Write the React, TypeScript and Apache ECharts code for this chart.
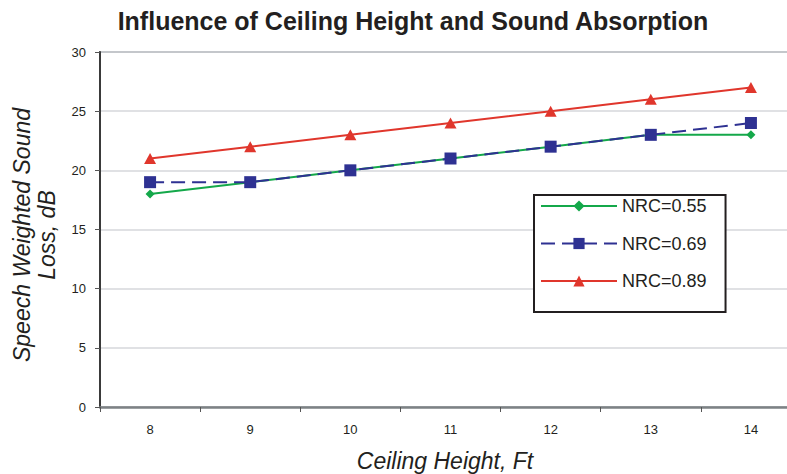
import React, { useEffect, useRef } from 'react';
import * as echarts from 'echarts';

const categories = ['8', '9', '10', '11', '12', '13', '14'];
const nrc055 = [18, 19, 20, 21, 22, 23, 23];
const nrc069 = [19, 19, 20, 21, 22, 23, 24];
const nrc089 = [21, 22, 23, 24, 25, 26, 27];
const seriesNames = ['NRC=0.55', 'NRC=0.69', 'NRC=0.89'];
const titleText = 'Influence of Ceiling Height and Sound Absorption';
const yName = 'Speech Weighted Sound\nLoss, dB';
const xName = 'Ceiling Height, Ft';

const FONT = '"Liberation Sans", Arial, Helvetica, sans-serif';

export default function App() {
  const ref = useRef<HTMLDivElement>(null);
  useEffect(() => {
    if (!ref.current) return;
    const chart = echarts.init(ref.current, null, { renderer: 'svg' });
    chart.setOption({
      animation: false,
      backgroundColor: '#ffffff',
      textStyle: { fontFamily: FONT },
      title: {
        text: titleText,
        left: 413,
        textAlign: 'center',
        top: 8,
        padding: 0,
        textStyle: { fontFamily: FONT, fontSize: 25, fontWeight: 'bold', color: '#231f20' },
      },
      grid: {
        left: 100,
        top: 52,
        width: 701,
        height: 355,
        show: true,
        borderColor: '#8e979c',
        borderWidth: 2,
        containLabel: false,
      },
      legend: {
        orient: 'vertical',
        left: 534,
        top: 195,
        padding: [2, 19, 22, 6],
        itemWidth: 76,
        itemHeight: 14,
        itemGap: 19.5,
        borderColor: '#231f20',
        borderWidth: 2,
        backgroundColor: '#ffffff',
        textStyle: { fontFamily: FONT, fontSize: 18, color: '#231f20', lineHeight: 18 },
        data: seriesNames,
      },
      xAxis: {
        type: 'category',
        data: categories,
        boundaryGap: true,
        axisLine: { show: true, lineStyle: { color: '#7d8285', width: 2.5 } },
        axisTick: { show: true, inside: false, length: 5, lineStyle: { color: '#555', width: 1 } },
        axisLabel: { fontFamily: FONT, fontSize: 13, color: '#231f20', margin: 16 },
        splitLine: { show: false },
      },
      yAxis: {
        type: 'value',
        min: 0,
        max: 30,
        interval: 5,
        axisLine: { show: true, lineStyle: { color: '#3a3a3a', width: 2 } },
        axisTick: { show: true, inside: false, length: 5, lineStyle: { color: '#555', width: 1 } },
        axisLabel: { fontFamily: FONT, fontSize: 13, color: '#231f20', margin: 14 },
        splitLine: { show: true, lineStyle: { color: '#d6d7db', width: 1.5 } },
      },
      graphic: [
        {
          type: 'text',
          x: 34,
          y: 235,
          rotation: Math.PI / 2,
          style: {
            text: yName,
            fontFamily: FONT,
            fontSize: 23,
            fontStyle: 'italic',
            fill: '#231f20',
            align: 'center',
            verticalAlign: 'middle',
            lineHeight: 25,
          },
        },
        {
          type: 'text',
          x: 445,
          y: 461,
          style: {
            text: xName,
            fontFamily: FONT,
            fontSize: 23,
            fontStyle: 'italic',
            fill: '#231f20',
            align: 'center',
            verticalAlign: 'middle',
          },
        },
      ],
      series: [
        {
          name: seriesNames[0],
          type: 'line',
          data: nrc055,
          symbol: 'diamond',
          symbolSize: 9,
          z: 2,
          itemStyle: { color: '#14a84a' },
          lineStyle: { color: '#14a84a', width: 2 },
        },
        {
          name: seriesNames[1],
          type: 'line',
          data: nrc069,
          symbol: 'rect',
          symbolSize: 12,
          z: 3,
          itemStyle: { color: '#2e3192' },
          lineStyle: { color: '#2e3192', width: 2, type: [14, 7] },
        },
        {
          name: seriesNames[2],
          type: 'line',
          data: nrc089,
          symbol: 'triangle',
          symbolSize: [12, 11],
          z: 4,
          itemStyle: { color: '#e0362c' },
          lineStyle: { color: '#e0362c', width: 2 },
        },
      ],
    });
    return () => chart.dispose();
  }, []);
  return (
    <div
      style={{
        position: 'absolute',
        left: 0,
        top: 0,
        width: 787,
        height: 474,
        overflow: 'hidden',
        background: '#ffffff',
      }}
    >
      <div ref={ref} style={{ width: 820, height: 474 }} />
    </div>
  );
}
